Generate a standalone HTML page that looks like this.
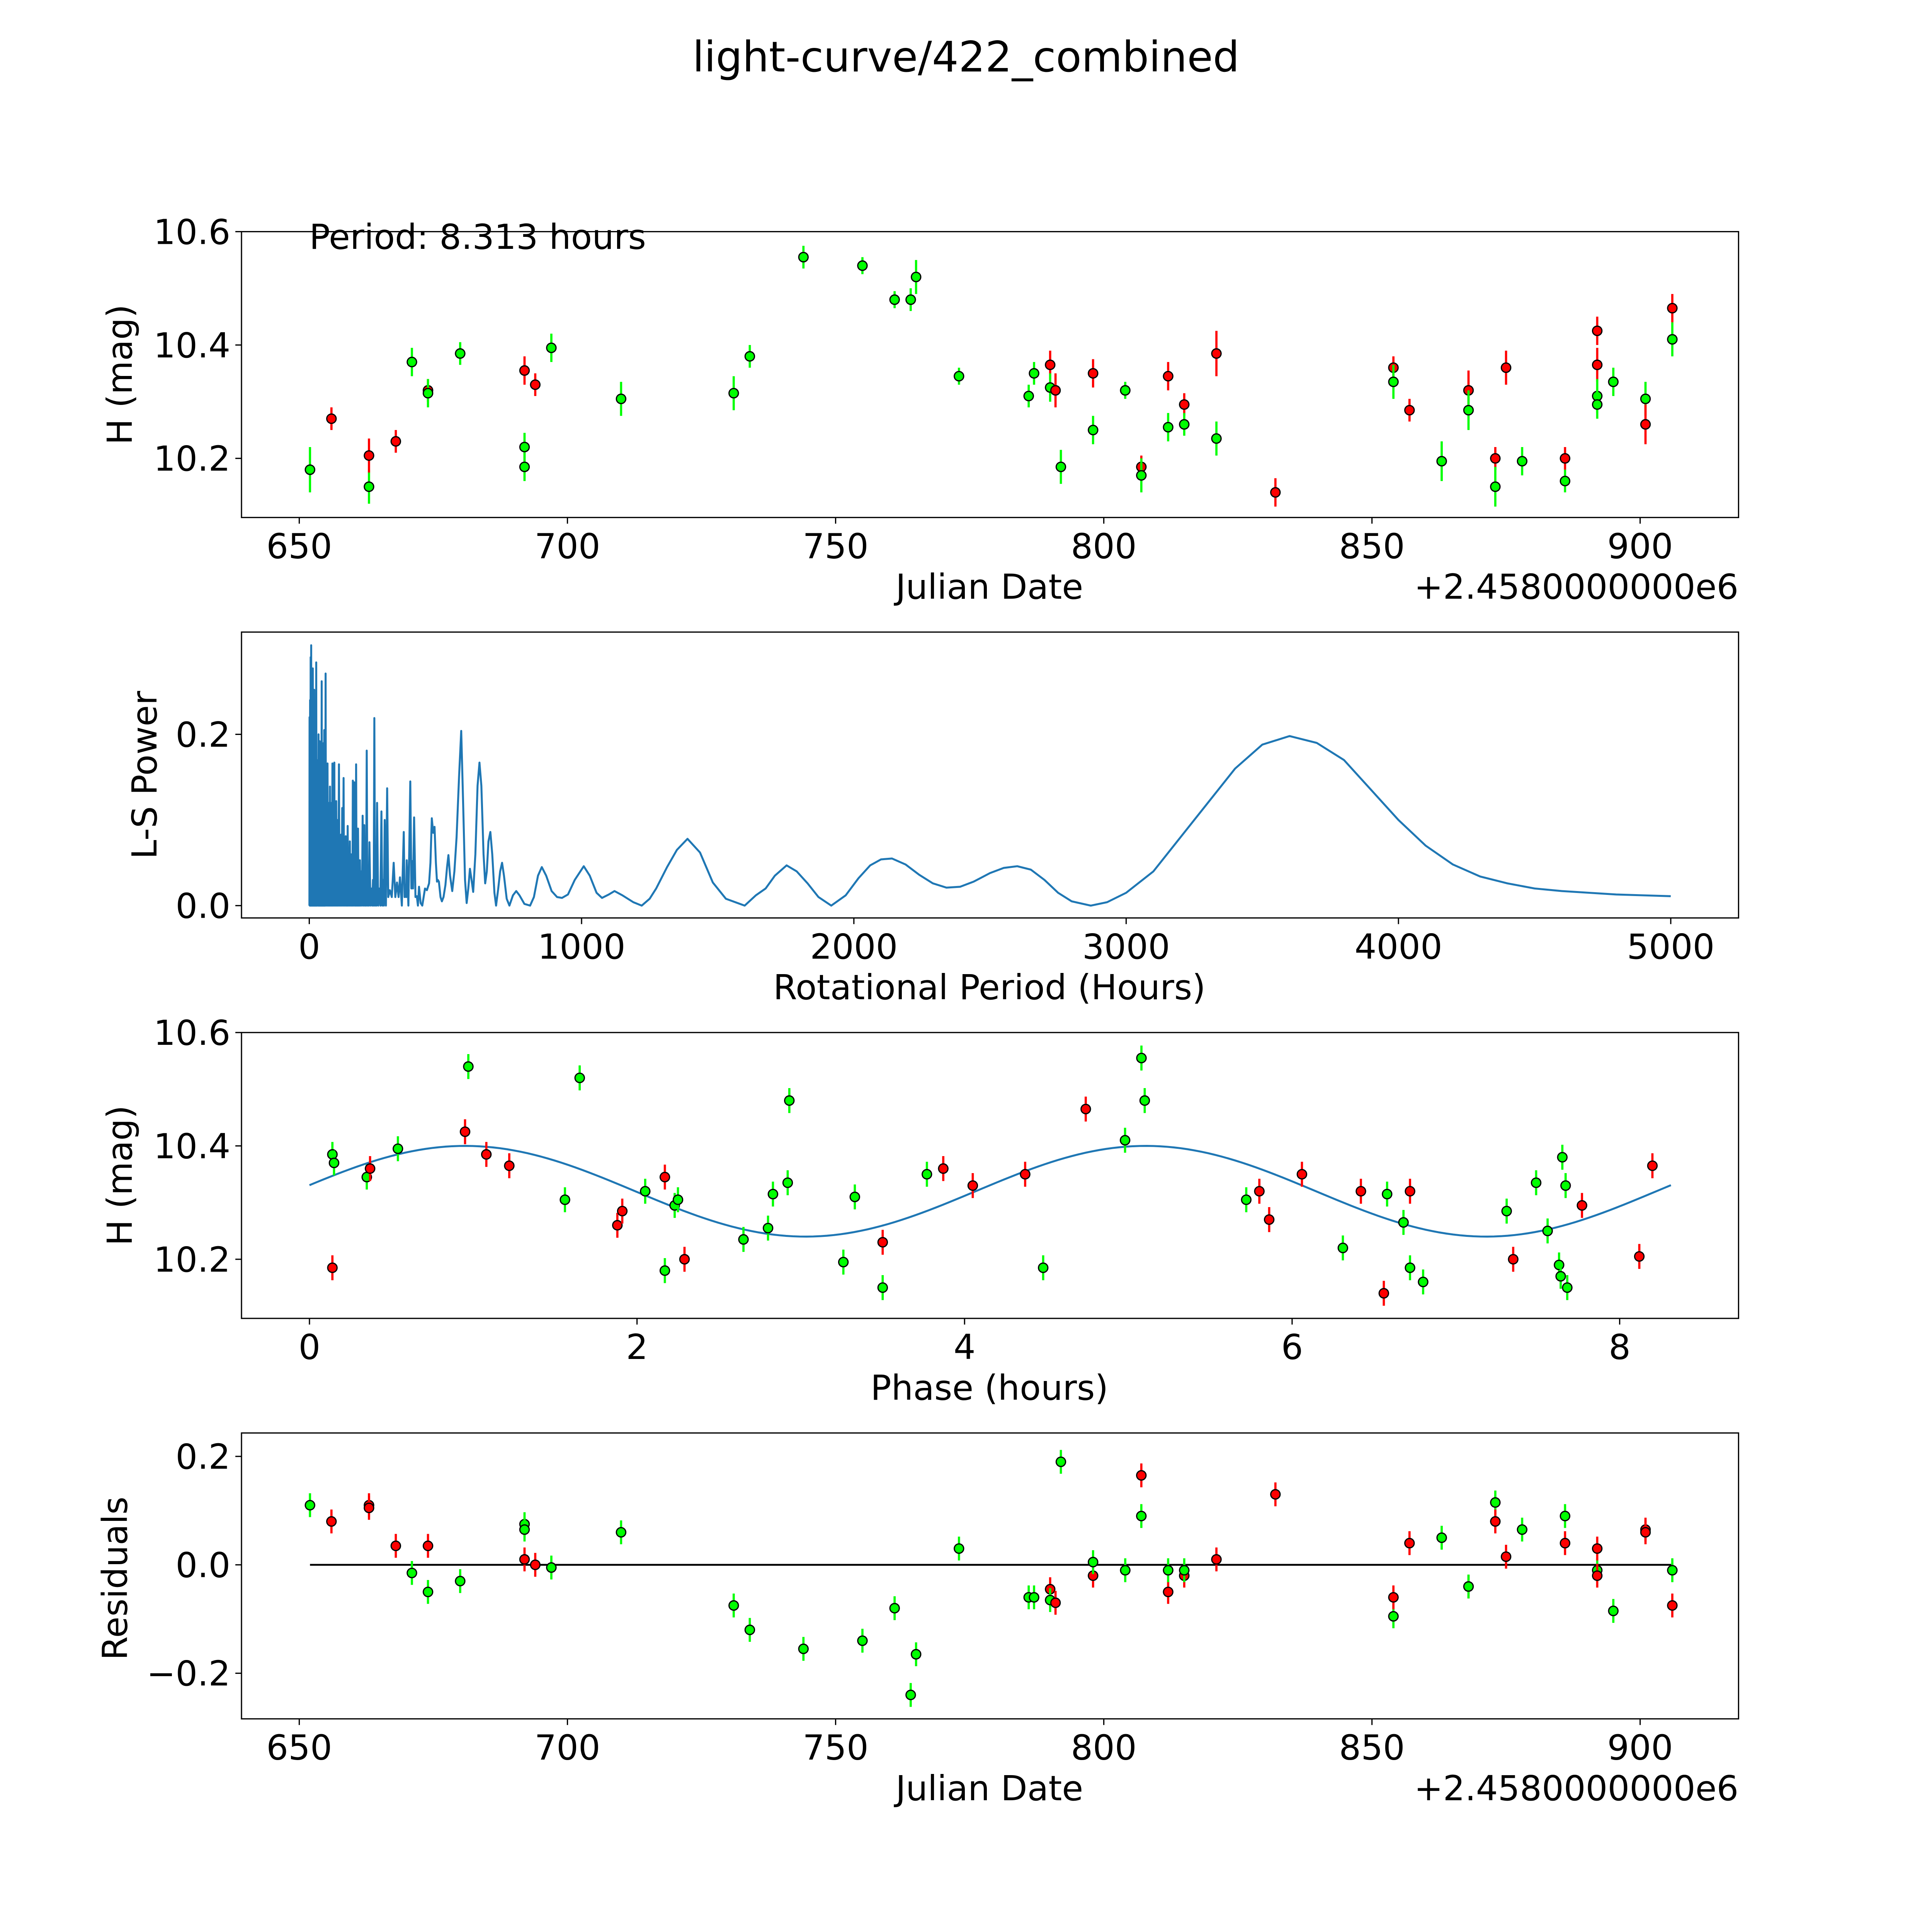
<!DOCTYPE html>
<html><head><meta charset="utf-8"><style>
html,body{margin:0;padding:0;background:#fff;overflow:hidden;width:100%;height:100%;}
svg{display:block;width:100vw;height:100vh;}
text{font-family:"DejaVu Sans","Liberation Sans",sans-serif;fill:#000;}
</style></head><body>
<svg id="fig" xmlns="http://www.w3.org/2000/svg" viewBox="0 0 1568 1568" preserveAspectRatio="none">
<rect width="1568" height="1568" fill="#fff"/>
<text x="784" y="58" font-size="34" text-anchor="middle">light-curve/422_combined</text>
</svg>
<script>
const lcDates = [652,656,663,663,668,671,674,674,680,692,692,692,694,697,710,731,734,744,755,761,764,765,773,786,787,790,790,791,792,798,798,804,807,807,812,812,815,815,821,821,832,854,854,857,863,868,868,873,873,875,878,886,886,892,892,892,892,895,901,901,906,906];
const lcMags = [10.18,10.27,10.15,10.205,10.23,10.37,10.32,10.315,10.385,10.355,10.22,10.185,10.33,10.395,10.305,10.315,10.38,10.555,10.54,10.48,10.48,10.52,10.345,10.31,10.35,10.365,10.325,10.32,10.185,10.35,10.25,10.32,10.185,10.17,10.345,10.255,10.295,10.26,10.385,10.235,10.14,10.36,10.335,10.285,10.195,10.32,10.285,10.2,10.15,10.36,10.195,10.2,10.16,10.425,10.365,10.31,10.295,10.335,10.305,10.26,10.465,10.41];
const lcBand = ['g','r','g','r','r','g','r','g','g','r','g','g','r','g','g','g','g','g','g','g','g','g','g','g','g','r','g','r','g','r','g','g','r','g','r','g','r','g','r','g','r','r','g','r','g','r','g','r','g','r','g','r','g','r','r','g','g','g','g','r','r','g'];
const lcErr = [0.04,0.02,0.03,0.03,0.02,0.025,0.02,0.025,0.02,0.025,0.025,0.025,0.02,0.025,0.03,0.03,0.02,0.02,0.015,0.015,0.02,0.03,0.015,0.02,0.02,0.025,0.025,0.03,0.03,0.025,0.025,0.015,0.02,0.03,0.025,0.025,0.02,0.02,0.04,0.03,0.025,0.02,0.03,0.02,0.035,0.035,0.035,0.02,0.035,0.03,0.025,0.02,0.02,0.025,0.03,0.03,0.025,0.025,0.03,0.035,0.025,0.03];
const spikePeriods = [1,3,5,7,9,11,13,15,18,20,23,25.5,28,31,34,36,38,41,43,45.6,48,51,53,55,57,60,63,67,70,73,76,79,82,85,88,92,95,99,102,105,109,113,117,121,126,130,134,138,141,145,149,153,157,160,165,169,172,176,179,183,186,191,196,202,206,211,216,221,228,234,239,244,249,257,265,271,277,286];
const spikePowers = [0.22,0.24,0.29,0.304,0.25,0.2,0.277,0.22,0.252,0.15,0.2,0.284,0.17,0.14,0.2,0.16,0.192,0.15,0.17,0.262,0.12,0.18,0.19,0.205,0.13,0.271,0.12,0.166,0.1,0.12,0.139,0.09,0.12,0.166,0.1,0.167,0.08,0.122,0.07,0.1,0.165,0.06,0.083,0.114,0.149,0.05,0.081,0.06,0.093,0.04,0.075,0.06,0.04,0.146,0.144,0.05,0.165,0.04,0.09,0.03,0.053,0.04,0.105,0.094,0.03,0.181,0.03,0.074,0.02,0.03,0.219,0.02,0.12,0.02,0.11,0.03,0.1,0.137];
const lsPeriods = [290,296,303,310,316,322,328,333,340,347,350,353,356,358,364,371,375,378,381,385,390,395,399,403,409,415,420,425,432,440,445,450,455,460,465,469,472,476,482,487,493,500,506,511,517,525,533,541,550,558,565,572,578,584,590,596,602,610,618,625,632,640,646,652,658,665,672,680,686,694,701,708,715,725,735,748,760,772,790,811,825,840,854,870,890,910,928,950,975,1008,1030,1055,1075,1100,1121,1150,1190,1221,1250,1274,1314,1350,1389,1435,1482,1530,1599,1640,1676,1710,1753,1790,1830,1870,1917,1970,2017,2060,2100,2140,2190,2240,2290,2340,2390,2440,2500,2550,2600,2650,2700,2750,2800,2870,2930,3000,3100,3200,3300,3400,3500,3600,3700,3800,3900,4000,4100,4200,4300,4400,4500,4600,4700,4800,4900,5000];
const lsPowers = [0.01,0.018,0.01,0.05,0.01,0.027,0.01,0.033,0,0.086,0.01,0.024,0.01,0.053,0,0.145,0.02,0.052,0.02,0.103,0.01,0.011,0,0.022,0.003,0,0.01,0.02,0.018,0.026,0.05,0.102,0.085,0.092,0.05,0.028,0.03,0.028,0.01,0.005,0.01,0.024,0.045,0.059,0.035,0.017,0.04,0.08,0.15,0.204,0.12,0.03,0.003,0.02,0.043,0.03,0.016,0.06,0.14,0.167,0.14,0.06,0.026,0.04,0.075,0.086,0.06,0.015,0,0.02,0.04,0.05,0.035,0.008,0,0.012,0.017,0.012,0.002,0,0.01,0.035,0.045,0.035,0.017,0.01,0.009,0.013,0.03,0.046,0.035,0.015,0.009,0.013,0.017,0.012,0.004,0,0.008,0.02,0.045,0.065,0.078,0.062,0.027,0.008,0,0.012,0.02,0.035,0.047,0.04,0.026,0.01,0,0.012,0.032,0.047,0.054,0.055,0.048,0.036,0.026,0.021,0.022,0.028,0.038,0.044,0.046,0.042,0.03,0.015,0.005,0,0.004,0.015,0.04,0.08,0.12,0.16,0.188,0.198,0.19,0.17,0.135,0.1,0.07,0.048,0.034,0.026,0.02,0.017,0.015,0.013,0.012,0.011];
const phPhase = [0.14,0.14,0.15,0.35,0.37,0.54,0.95,0.97,1.08,1.22,1.56,1.65,1.88,1.91,2.05,2.17,2.17,2.23,2.25,2.29,2.65,2.8,2.83,2.92,2.93,3.26,3.33,3.5,3.5,3.77,3.87,4.05,4.37,4.48,4.74,4.98,5.08,5.1,5.72,5.8,5.86,6.06,6.31,6.42,6.56,6.58,6.68,6.72,6.72,6.8,7.31,7.35,7.49,7.56,7.63,7.64,7.65,7.67,7.68,7.77,8.12,8.2];
const phMags = [10.185,10.385,10.37,10.345,10.36,10.395,10.425,10.54,10.385,10.365,10.305,10.52,10.26,10.285,10.32,10.345,10.18,10.295,10.305,10.2,10.235,10.255,10.315,10.335,10.48,10.195,10.31,10.23,10.15,10.35,10.36,10.33,10.35,10.185,10.465,10.41,10.555,10.48,10.305,10.32,10.27,10.35,10.22,10.32,10.14,10.315,10.265,10.32,10.185,10.16,10.285,10.2,10.335,10.25,10.19,10.17,10.38,10.33,10.15,10.295,10.205,10.365];
const phBand = ['r','g','g','g','r','g','r','g','r','r','g','g','r','r','g','r','g','g','g','r','g','g','g','g','g','g','g','r','g','g','r','r','r','g','r','g','g','g','g','r','r','r','g','r','r','g','g','r','g','g','g','r','g','g','g','g','g','g','g','r','r','r'];
const fitMean = 10.32, fitAmp = 0.08, fitPeriod = 4.1565, fitShift = -0.089, fitMaxPhase = 8.313;
const resDates = [652,656,663,663,668,671,674,674,680,692,692,692,694,697,710,731,734,744,755,761,764,765,773,786,787,790,790,791,792,798,798,804,807,807,812,812,815,815,821,832,854,854,857,863,868,868,873,873,875,878,886,886,892,892,892,895,901,901,906,906];
const resVals = [0.11,0.08,0.11,0.105,0.035,-0.015,0.035,-0.05,-0.03,0.075,0.065,0.01,0,-0.005,0.06,-0.075,-0.12,-0.155,-0.14,-0.08,-0.24,-0.165,0.03,-0.06,-0.06,-0.045,-0.065,-0.07,0.19,-0.02,0.005,-0.01,0.165,0.09,-0.05,-0.01,-0.02,-0.01,0.01,0.13,-0.095,-0.06,0.04,0.05,-0.04,-0.04,0.115,0.08,0.015,0.065,0.09,0.04,-0.01,0.03,-0.02,-0.085,0.065,0.06,-0.01,-0.075];
const resBand = ['g','r','r','r','r','g','r','g','g','g','g','r','r','g','g','g','g','g','g','g','g','g','g','g','g','r','g','r','g','r','g','g','r','g','r','g','r','g','r','r','g','r','r','g','r','g','g','r','r','g','g','r','g','r','r','g','r','r','g','r'];
const jdTicks = [650,700,750,800,850,900];
const lcYTicks = [10.2,10.4,10.6];
const lsXTicks = [0,1000,2000,3000,4000,5000];
const lsYTicks = [0.0,0.2];
const phXTicks = [0,2,4,6,8];
const resYTicks = [-0.2,0.0,0.2];

const NS='http://www.w3.org/2000/svg';
const svg=document.getElementById('fig');
function mk(tag,attrs,parent){const e=document.createElementNS(NS,tag);for(const k in attrs)e.setAttribute(k,attrs[k]);(parent||svg).appendChild(e);return e;}
function axes(name,x0,x1,y0,y1,xmin,xmax,ymin,ymax){
  const g=mk('g',{});
  
  
  return {g,x:v=>x0+(v-xmin)/(xmax-xmin)*(x1-x0),y:v=>y1-(v-ymin)/(ymax-ymin)*(y1-y0),x0,x1,y0,y1};
}
function frame(a){const r=mk('rect',{x:a.x0,y:a.y0,width:a.x1-a.x0,height:a.y1-a.y0,fill:'none',stroke:'#000','stroke-width':1},a.g);
  
  }
function xticks(a,ticks,fmt){ticks.forEach(t=>{const px=a.x(t);mk('line',{x1:px,x2:px,y1:a.y1,y2:a.y1+5,stroke:'#000'},a.g);
  const tx=mk('text',{x:px,y:a.y1+33,'font-size':28,'text-anchor':'middle'},a.g);tx.textContent=fmt(t);
  
  });}
function yticks(a,ticks,fmt){ticks.forEach(t=>{const py=a.y(t);mk('line',{x1:a.x0-5,x2:a.x0,y1:py,y2:py,stroke:'#000'},a.g);
  const tx=mk('text',{x:a.x0-9,y:py+10,'font-size':28,'text-anchor':'end'},a.g);tx.textContent=fmt(t);
  
  });}
function label(a,txt,x,y,rot,name,anchor){const t=mk('text',{x,y,'font-size':28,'text-anchor':anchor||'middle',transform:rot?`rotate(-90 ${x} ${y})`:''},a.g);t.textContent=txt;
  
  }
function pts(a,xs,ys,bands,errs,name){xs.forEach((v,i)=>{const c=bands[i]==='r'?'#ff0000':'#00ff00';const px=a.x(v),py=a.y(ys[i]);const e=errs?errs[i]:0.022;
  mk('line',{x1:px,x2:px,y1:a.y(ys[i]+e),y2:a.y(ys[i]-e),stroke:c,'stroke-width':1.8},a.g);
  const cc=mk('circle',{cx:px,cy:py,r:3.8,fill:c,stroke:'#000','stroke-width':1},a.g);
  
  });}
const f1=v=>v.toFixed(1), f0=v=>String(v);
const mfmt=v=>(v<0?'\u2212':'')+Math.abs(v).toFixed(1);

const JDMIN=639.23, JDMAX=918.35;
const a1=axes('light-curve-panel',196,1411,188,420,JDMIN,JDMAX,10.0957,10.6);
pts(a1,lcDates,lcMags,lcBand,lcErr,'light-curve-point');
frame(a1);xticks(a1,jdTicks,f0);yticks(a1,lcYTicks,f1);
label(a1,'Julian Date',803,486,false,'x-axis-title');
label(a1,'+2.4580000000e6',1411,486,false,'x-offset-label','end');
label(a1,'H (mag)',107,304,true,'y-axis-title');
label(a1,'Period: 8.313 hours',251,202,false,'period-annotation','start');

const a2=axes('periodogram-panel',196,1411,513,745,-248.9,5249,-0.0144,0.3194);
let d='M'+a2.x(0)+','+a2.y(0);
spikePeriods.forEach((p,i)=>{const prev=i?spikePeriods[i-1]:0;d+=' L'+a2.x((prev+p)/2).toFixed(2)+','+a2.y(0).toFixed(2)+' L'+a2.x(p).toFixed(2)+','+a2.y(spikePowers[i]).toFixed(2);});
lsPeriods.forEach((p,i)=>{d+=' L'+a2.x(p).toFixed(2)+','+a2.y(lsPowers[i]).toFixed(2);});
const ls=mk('path',{d,fill:'none',stroke:'#1f77b4','stroke-width':1.6,'stroke-linejoin':'round'},a2.g);


frame(a2);xticks(a2,lsXTicks,f0);yticks(a2,lsYTicks,f1);
label(a2,'Rotational Period (Hours)',803,811,false,'x-axis-title');
label(a2,'L-S Power',127,629,true,'y-axis-title');

const a3=axes('phase-panel',196,1411,838,1070,-0.415,8.726,10.0957,10.6);
let fd='';for(let i=0;i<=200;i++){const ph=fitMaxPhase*i/200;const m=fitMean+fitAmp*Math.sin(2*Math.PI*(ph-fitShift)/fitPeriod);fd+=(i?' L':'M')+a3.x(ph).toFixed(2)+','+a3.y(m).toFixed(2);}
const fl=mk('path',{d:fd,fill:'none',stroke:'#1f77b4','stroke-width':1.6},a3.g);


pts(a3,phPhase,phMags,phBand,null,'phase-point');
frame(a3);xticks(a3,phXTicks,f0);yticks(a3,lcYTicks,f1);
label(a3,'Phase (hours)',803,1136,false,'x-axis-title');
label(a3,'H (mag)',107,954,true,'y-axis-title');

const a4=axes('residuals-panel',196,1411,1163,1395,JDMIN,JDMAX,-0.2841,0.2432);
const zl=mk('line',{x1:a4.x(652),x2:a4.x(906),y1:a4.y(0),y2:a4.y(0),stroke:'#000','stroke-width':1.5},a4.g);


pts(a4,resDates,resVals,resBand,null,'residual-point');
frame(a4);xticks(a4,jdTicks,f0);yticks(a4,resYTicks,mfmt);
label(a4,'Julian Date',803,1461,false,'x-axis-title');
label(a4,'+2.4580000000e6',1411,1461,false,'x-offset-label','end');
label(a4,'Residuals',103,1281,true,'y-axis-title');
</script>
</body></html>
